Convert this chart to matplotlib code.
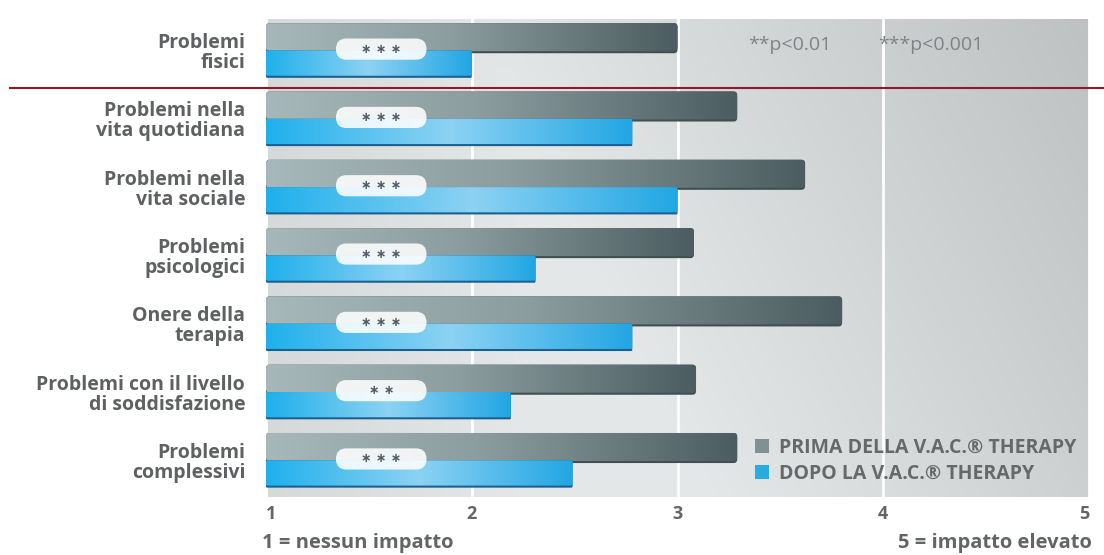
import numpy as np
import matplotlib
matplotlib.use("Agg")
import matplotlib.pyplot as plt
from matplotlib.colors import to_rgb
from matplotlib.patches import FancyBboxPatch
from matplotlib.lines import Line2D

# ---------------- data ----------------
categories = ["Problemi\nfisici", "Problemi nella\nvita quotidiana",
              "Problemi nella\nvita sociale", "Problemi\npsicologici",
              "Onere della\nterapia", "Problemi con il livello\ndi soddisfazione",
              "Problemi\ncomplessivi"]
prima = [3.00, 3.29, 3.62, 3.08, 3.80, 3.09, 3.29]
dopo = [2.00, 2.78, 3.00, 2.31, 2.78, 2.19, 2.49]
significance = ["***", "***", "***", "***", "***", "**", "***"]
xticks = [1, 2, 3, 4, 5]
series_labels = ["PRIMA DELLA V.A.C.\u00ae THERAPY", "DOPO LA V.A.C.\u00ae THERAPY"]
pvalue_notes = ["**p<0.01", "***p<0.001"]
scale_notes = ["1 = nessun impatto", "5 = impatto elevato"]

FONT = ["Open Sans", "DejaVu Sans"]
TXT = "#5e6062"

fig = plt.figure(figsize=(11.04, 5.55), dpi=100)
fig.patch.set_facecolor("white")
ax = fig.add_axes([266 / 1104, 1 - 497 / 555, 823 / 1104, 478 / 555])

YTOP, YBOT = -0.461, 6.537
ASPECT = (823 / 4) / (478 / (YBOT - YTOP))  # px per x-unit / px per y-unit

# background gradient
nx, ny = 400, 200
xn = np.linspace(0, 1, nx)[None, :]
yn = np.linspace(0, 1, ny)[:, None]
v = 232 - 50 * np.clip(xn + 0.3 * (1 - yn) - 0.55, 0, None)
v = v - 14 * np.clip(1 - xn / 0.3, 0, None)
bg = np.dstack([v - 4, v - 1, v + 0 * yn]) / 255.0
bg = np.clip(bg * np.ones((ny, nx, 1)), 0, 1)
ax.imshow(bg, extent=[xticks[0], xticks[-1], YBOT, YTOP], aspect="auto",
          origin="upper", zorder=0, interpolation="bilinear")


def hgrad(stops, n=256):
    pos = np.array([s[0] for s in stops])
    cols = np.array([to_rgb(s[1]) for s in stops])
    t = np.linspace(0, 1, n)
    arr = np.stack([np.interp(t, pos, cols[:, k]) for k in range(3)], axis=-1)
    return arr[None, :, :]


gray_grad = hgrad([(0, "#a6b8b9"), (0.45, "#8b9d9f"), (1, "#4c5d61")])
blue_grad = hgrad([(0, "#1fb0ec"), (0.5, "#8cd2f3"), (1, "#22a6e3")])

y = np.arange(len(categories))
gray_bars = ax.barh(y - 0.18, np.array(prima) - 1, left=1, height=0.44,
                    color="#7f9193", zorder=2, label=series_labels[0])
blue_bars = ax.barh(y + 0.20, np.array(dopo) - 1, left=1, height=0.40,
                    color="#29abe2", zorder=3, label=series_labels[1])

for bars, grad, edge, z, rad in [(gray_bars, gray_grad, "#3f4f53", 2, 0.018),
                                 (blue_bars, blue_grad, "#1b5f8e", 3, 0.006)]:
    for p in bars.patches:
        x0, w = p.get_x(), p.get_width()
        y0, h = p.get_y(), p.get_height()
        p.set_visible(False)
        shape = FancyBboxPatch((x0, y0), w, h,
                               boxstyle=f"round,pad=0,rounding_size={rad}",
                               mutation_aspect=ASPECT, fc=edge, ec="none",
                               zorder=z)
        ax.add_patch(shape)
        clip = FancyBboxPatch((x0, y0), w, h - 0.03,
                              boxstyle=f"round,pad=0,rounding_size={rad}",
                              mutation_aspect=ASPECT, fc="none", ec="none",
                              transform=ax.transData)
        im = ax.imshow(grad, extent=[x0, x0 + w, y0 + h, y0], aspect="auto",
                       zorder=z + 0.1, interpolation="bilinear")
        im.set_clip_path(clip)

# significance pills
for i, s in enumerate(significance):
    pill = FancyBboxPatch((1.34, i - 0.175), 0.44, 0.31,
                          boxstyle="round,pad=0,rounding_size=0.051",
                          mutation_aspect=ASPECT, fc="white", ec="none",
                          alpha=0.88, zorder=4)
    ax.add_patch(pill)
    ax.text(1.56, i - 0.02, " ".join("\u2217" * len(s)), ha="center",
            va="center", fontsize=9, fontweight="bold", color="#505d69",
            zorder=5, family="DejaVu Sans")

# p-value notes
ax.text(3.345, -0.08, pvalue_notes[0], ha="left", va="center", fontsize=14,
        color="#7f8386", family=FONT)
ax.text(3.975, -0.08, pvalue_notes[1], ha="left", va="center", fontsize=14,
        color="#7f8386", family=FONT)

ax.set_xlim(xticks[0], xticks[-1])
ax.set_ylim(YBOT, YTOP)
ax.set_xticks(xticks)
ax.set_xticklabels([str(t) for t in xticks], fontsize=13, fontweight="bold",
                   color="#626466", family=FONT)
tl = ax.get_xticklabels()
tl[0].set_ha("left")
tl[-1].set_ha("right")
ax.set_yticks(y)
ax.set_yticklabels(categories, fontsize=14, fontweight="bold", color=TXT,
                   family=FONT, linespacing=1.0)
for t in ax.get_yticklabels():
    t.set_multialignment("right")
ax.tick_params(axis="x", length=0, pad=6)
ax.tick_params(axis="y", length=0, pad=15)
ax.grid(axis="x", color="white", lw=2)
ax.set_axisbelow(True)
for sp in ax.spines.values():
    sp.set_visible(False)

leg = ax.legend(handles=[gray_bars, blue_bars], loc="center left",
                bbox_to_anchor=((755 - 266) / 823, (497 - 461) / 478),
                frameon=False, borderpad=0, borderaxespad=0,
                handlelength=0.7, handleheight=0.7, handletextpad=0.55,
                labelspacing=0.3, prop={"family": FONT, "weight": "bold", "size": 14})
for t in leg.get_texts():
    t.set_color("#66686a")
for h in leg.legend_handles:
    h.set_visible(True)

fig.text(262 / 1104, 1 - 543 / 555, scale_notes[0], ha="left", va="center",
         fontsize=14.5, fontweight="bold", color="#626466", family=FONT)
fig.text(1092 / 1104, 1 - 543 / 555, scale_notes[1], ha="right", va="center",
         fontsize=14.5, fontweight="bold", color="#626466", family=FONT)

fig.add_artist(Line2D([10 / 1104, 1], [1 - 88 / 555] * 2, color="#8c1c2c",
                      lw=1.5, transform=fig.transFigure))

fig.savefig("out.png", dpi=100)
